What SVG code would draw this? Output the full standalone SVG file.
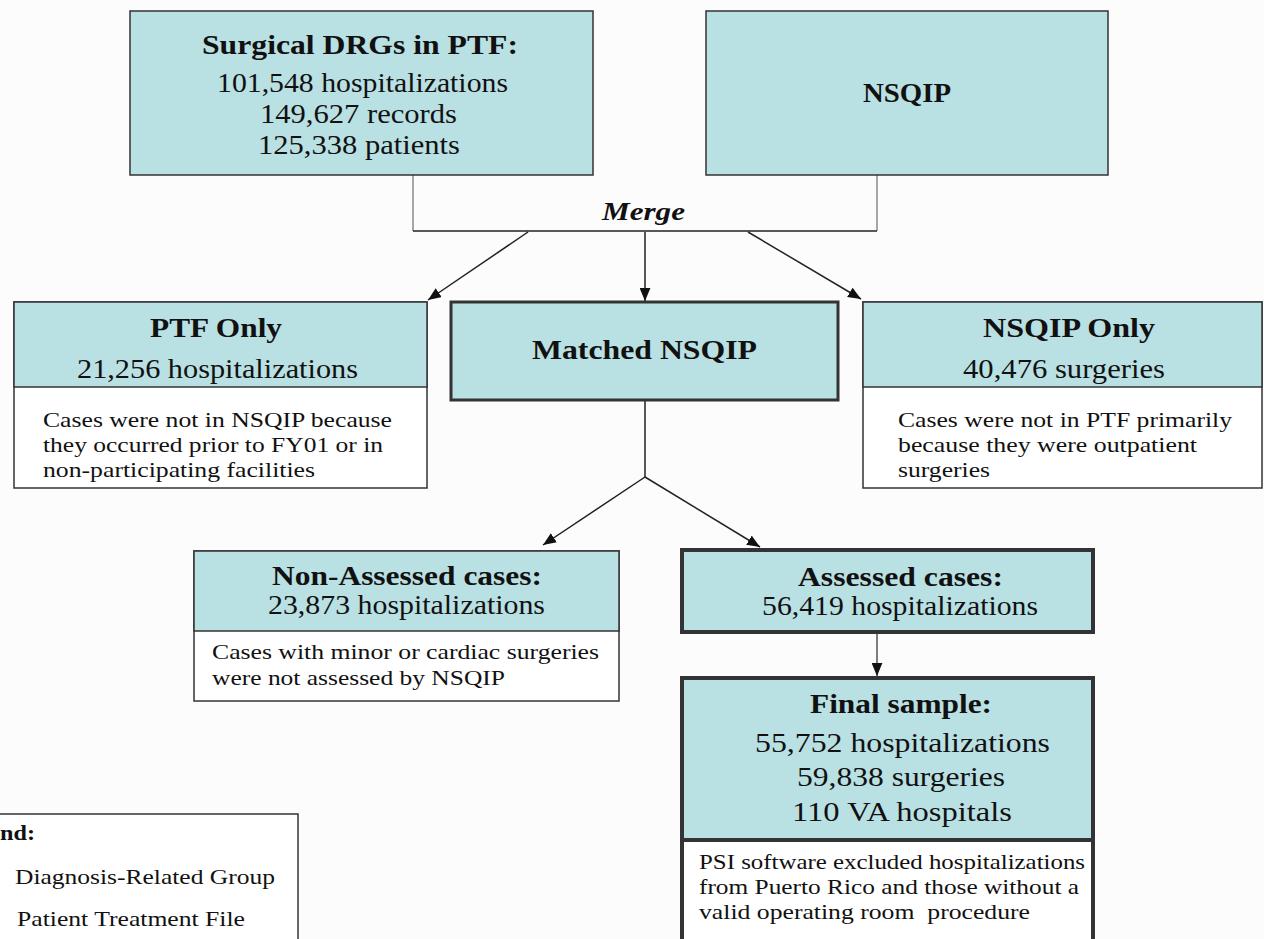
<svg xmlns="http://www.w3.org/2000/svg" width="1264" height="939" viewBox="0 0 1264 939">
<style>
.bg{fill:#fdfcfd}
.blue{fill:#b9e0e3;stroke:#333;stroke-width:1.5}
.white{fill:#fff;stroke:#333;stroke-width:1.5}
.thick3{stroke-width:3}
.thick4{stroke-width:4}
.t{font-family:"Liberation Serif","Times New Roman",serif;fill:#111}
.b{font-weight:bold}
.big{font-size:27px}
.sm{font-size:22px}
.conn{stroke:#222;stroke-width:1.5;fill:none}
.gray{stroke:#8a8a8a;stroke-width:1.5;fill:none}
</style>
<defs>
<marker id="arr" viewBox="0 0 12 10" refX="12" refY="5" markerWidth="13" markerHeight="11" orient="auto" markerUnits="userSpaceOnUse">
<path d="M0,0 L12,5 L0,10 z" fill="#111"/>
</marker>
</defs>
<rect class="bg" x="0" y="0" width="1264" height="939"/>

<g id="connectors">
<path class="gray" d="M413,175 V231"/>
<path class="gray" d="M877,175 V231"/>
<path class="conn" d="M413,231 H877"/>
<line class="conn" x1="528" y1="232" x2="428" y2="300" marker-end="url(#arr)"/>
<line class="conn" x1="645" y1="232" x2="645" y2="301" marker-end="url(#arr)"/>
<line class="conn" x1="748" y1="232" x2="861" y2="299" marker-end="url(#arr)"/>
<path class="conn" d="M645,401 V477"/>
<line class="conn" x1="645" y1="477" x2="543" y2="545" marker-end="url(#arr)"/>
<line class="conn" x1="645" y1="477" x2="760" y2="547" marker-end="url(#arr)"/>
<line x1="877" y1="633" x2="877" y2="676" stroke="#555" stroke-width="1.5" marker-end="url(#arr)"/>
<text class="t b" x="602" y="220" font-size="25" font-style="italic" textLength="83" lengthAdjust="spacingAndGlyphs">Merge</text>
</g>

<g id="surgical">
<rect class="blue" x="130" y="11" width="463" height="164"/>
<text class="t b big" x="202" y="54" textLength="316" lengthAdjust="spacingAndGlyphs">Surgical DRGs in PTF:</text>
<text class="t big" x="217" y="92" textLength="291" lengthAdjust="spacingAndGlyphs">101,548 hospitalizations</text>
<text class="t big" x="260" y="123" textLength="197" lengthAdjust="spacingAndGlyphs">149,627 records</text>
<text class="t big" x="258" y="154" textLength="202" lengthAdjust="spacingAndGlyphs">125,338 patients</text>
</g>

<g id="nsqip">
<rect class="blue" x="706" y="11" width="402" height="164"/>
<text class="t b big" x="863" y="102" textLength="88" lengthAdjust="spacingAndGlyphs">NSQIP</text>
</g>

<g id="ptf-only">
<rect class="white" x="14" y="302" width="413" height="186"/>
<rect class="blue" x="14" y="302" width="413" height="85"/>
<text class="t b big" x="150" y="337" textLength="132" lengthAdjust="spacingAndGlyphs">PTF Only</text>
<text class="t big" x="77" y="378" textLength="281" lengthAdjust="spacingAndGlyphs">21,256 hospitalizations</text>
<text class="t sm" x="43" y="427" textLength="349" lengthAdjust="spacingAndGlyphs">Cases were not in NSQIP because</text>
<text class="t sm" x="43" y="452" textLength="340" lengthAdjust="spacingAndGlyphs">they occurred prior to FY01 or in</text>
<text class="t sm" x="43" y="477" textLength="272" lengthAdjust="spacingAndGlyphs">non-participating facilities</text>
</g>

<g id="matched">
<rect class="blue thick3" x="451" y="302" width="387" height="98"/>
<text class="t b" font-size="28" x="532" y="359" textLength="225" lengthAdjust="spacingAndGlyphs">Matched NSQIP</text>
</g>

<g id="nsqip-only">
<rect class="white" x="863" y="302" width="399" height="186"/>
<rect class="blue" x="863" y="302" width="399" height="85"/>
<text class="t b big" x="983" y="337" textLength="172" lengthAdjust="spacingAndGlyphs">NSQIP Only</text>
<text class="t big" x="963" y="378" textLength="202" lengthAdjust="spacingAndGlyphs">40,476 surgeries</text>
<text class="t sm" x="898" y="427" textLength="334" lengthAdjust="spacingAndGlyphs">Cases were not in PTF primarily</text>
<text class="t sm" x="898" y="452" textLength="299" lengthAdjust="spacingAndGlyphs">because they were outpatient</text>
<text class="t sm" x="898" y="477" textLength="92" lengthAdjust="spacingAndGlyphs">surgeries</text>
</g>

<g id="non-assessed">
<rect class="white" x="194" y="551" width="425" height="150"/>
<rect class="blue" x="194" y="551" width="425" height="80"/>
<text class="t b big" x="272" y="585" textLength="270" lengthAdjust="spacingAndGlyphs">Non-Assessed cases:</text>
<text class="t big" x="268" y="614" textLength="277" lengthAdjust="spacingAndGlyphs">23,873 hospitalizations</text>
<text class="t sm" x="212" y="659" textLength="387" lengthAdjust="spacingAndGlyphs">Cases with minor or cardiac surgeries</text>
<text class="t sm" x="212" y="685" textLength="293" lengthAdjust="spacingAndGlyphs">were not assessed by NSQIP</text>
</g>

<g id="assessed">
<rect class="blue thick4" x="682" y="550" width="411" height="82"/>
<text class="t b big" x="798" y="586" textLength="205" lengthAdjust="spacingAndGlyphs">Assessed cases:</text>
<text class="t big" x="762" y="615" textLength="276" lengthAdjust="spacingAndGlyphs">56,419 hospitalizations</text>
</g>

<g id="final">
<rect class="white thick4" x="682" y="678" width="411" height="300"/>
<rect class="blue thick4" x="682" y="678" width="411" height="162"/>
<text class="t b big" x="810" y="713" textLength="182" lengthAdjust="spacingAndGlyphs">Final sample:</text>
<text class="t big" x="755" y="752" textLength="295" lengthAdjust="spacingAndGlyphs">55,752 hospitalizations</text>
<text class="t big" x="797" y="786" textLength="208" lengthAdjust="spacingAndGlyphs">59,838 surgeries</text>
<text class="t big" x="792" y="821" textLength="220" lengthAdjust="spacingAndGlyphs">110 VA hospitals</text>
<text class="t" font-size="21" x="699" y="869" textLength="386" lengthAdjust="spacingAndGlyphs">PSI software excluded hospitalizations</text>
<text class="t" font-size="21" x="699" y="894" textLength="380" lengthAdjust="spacingAndGlyphs">from Puerto Rico and those without a</text>
<text class="t" font-size="21" x="699" y="919" textLength="331" lengthAdjust="spacingAndGlyphs" xml:space="preserve">valid operating room  procedure</text>
</g>

<g id="legend">
<rect class="white" x="-5" y="814" width="303" height="140" stroke-width="1.2"/>
<text class="t b sm" x="0" y="840" textLength="35" lengthAdjust="spacingAndGlyphs">nd:</text>
<text class="t sm" x="15" y="884" textLength="260" lengthAdjust="spacingAndGlyphs">Diagnosis-Related Group</text>
<text class="t sm" x="17" y="926" textLength="228" lengthAdjust="spacingAndGlyphs">Patient Treatment File</text>
</g>
</svg>
